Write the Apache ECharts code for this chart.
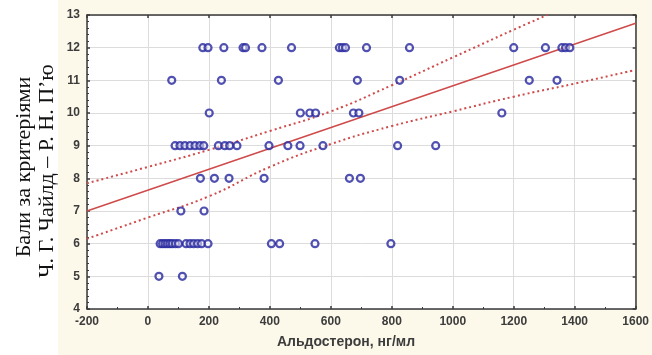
<!DOCTYPE html>
<html>
<head>
<meta charset="utf-8">
<script src="https://cdn.jsdelivr.net/npm/echarts@6/dist/echarts.min.js"></script>
<style>
  html, body { margin: 0; padding: 0; background: #ffffff; }
  #chart { width: 652px; height: 355px; }
</style>
</head>
<body>
<div id="chart"></div>
<script>
// Aldosterone level (ng/ml) of each patient, grouped by Child–Pugh score
const score5  = [36, 113];
const score6  = [40, 48, 56, 64, 72, 80, 90, 100, 125, 138, 150, 163, 176, 197, 405, 432, 548, 797];
const score7  = [108, 184];
const score8  = [172, 218, 266, 381, 661, 697];
const score9  = [89, 105, 121, 138, 154, 170, 183, 231, 252, 268, 292, 397, 459, 499, 574, 819, 944];
const score10 = [201, 500, 531, 550, 674, 692, 1161];
const score11 = [78, 241, 428, 687, 826, 1251, 1342];
const score12 = [180, 197, 249, 312, 320, 374, 471, 628, 638, 648, 717, 858, 1200, 1304, 1358, 1370, 1384];

const scoreGroups = [
  [5, score5], [6, score6], [7, score7], [8, score8],
  [9, score9], [10, score10], [11, score11], [12, score12]
];

// Fitted regression line and its 95% confidence band
const fitLine   = [[-200, 7.0], [1600, 12.75]];
const bandUpper = [[-200, 7.85], [0, 8.35], [200, 8.87], [400, 9.45], [600, 10.05],
                   [800, 10.85], [1000, 11.7], [1200, 12.55], [1310, 13.0]];
const bandLower = [[-200, 6.15], [0, 6.8], [200, 7.45], [400, 8.35], [600, 9.05],
                   [800, 9.6], [1000, 10.05], [1200, 10.5], [1400, 10.9], [1600, 11.32]];

// Axis settings
const xMin = -200, xMax = 1600, xStep = 200;
const yMin = 4, yMax = 13, yStep = 1;

const points = [];
scoreGroups.forEach(([score, xs]) => xs.forEach(x => points.push([x, score])));

const frameColor = '#3a3a3a';
const sansFont = 'Liberation Sans, Arial, sans-serif';
const labelStyle = { color: '#3c3c3c', fontSize: 12, fontWeight: 'bold', fontFamily: sansFont };
const lineRed = '#cf4a4a';
const serifFont = '22px "Liberation Serif", "Times New Roman", serif';

const chart = echarts.init(document.getElementById('chart'), null, { renderer: 'canvas' });

chart.setOption({
  animation: false,
  backgroundColor: '#ffffff',
  graphic: [
    { type: 'rect', z: -10, shape: { x: 58, y: 0, width: 594, height: 355 }, style: { fill: '#fcf8ea' }, silent: true },
    { type: 'text', x: 24, y: 167, rotation: Math.PI / 2,
      style: { text: 'Бали за критеріями', fill: '#111', font: serifFont,
               textAlign: 'center', textVerticalAlign: 'middle' } },
    { type: 'text', x: 47, y: 171, rotation: Math.PI / 2,
      style: { text: 'Ч. Г. Чайлд – Р. Н. П’ю', fill: '#111', font: serifFont,
               textAlign: 'center', textVerticalAlign: 'middle' } },
    { type: 'text', x: 346, y: 342,
      style: { text: 'Альдостерон, нг/мл', fill: '#3c3c3c', font: 'bold 14px ' + sansFont,
               textAlign: 'center', textVerticalAlign: 'middle' } }
  ],
  grid: { left: 87, right: 15, top: 15, bottom: 46, show: true, backgroundColor: '#ffffff', borderWidth: 0 },
  xAxis: [
    {
      type: 'value', min: xMin, max: xMax, interval: xStep, position: 'bottom',
      axisLine: { show: true, onZero: false, lineStyle: { color: frameColor, width: 1.5 } },
      axisTick: { show: true, inside: true, length: 3, lineStyle: { color: frameColor, width: 1.5 } },
      minorTick: { show: true, splitNumber: 2, length: 2, lineStyle: { color: frameColor } },
      axisLabel: Object.assign({ margin: 7, formatter: v => String(v) }, labelStyle),
      splitLine: { show: true, lineStyle: { color: '#dcdcdc', width: 1 } }
    },
    {
      type: 'value', min: xMin, max: xMax, interval: xStep, position: 'top',
      axisLine: { show: true, onZero: false, lineStyle: { color: frameColor, width: 1.5 } },
      axisTick: { show: true, inside: true, length: 3, lineStyle: { color: frameColor, width: 1.5 } },
      axisLabel: { show: false }, splitLine: { show: false }
    }
  ],
  yAxis: [
    {
      type: 'value', min: yMin, max: yMax, interval: yStep, position: 'left',
      axisLine: { show: true, onZero: false, lineStyle: { color: frameColor, width: 1.5 } },
      axisTick: { show: true, inside: true, length: 3, lineStyle: { color: frameColor, width: 1.5 } },
      minorTick: { show: true, splitNumber: 5, length: 2, lineStyle: { color: frameColor } },
      axisLabel: Object.assign({ margin: 7, formatter: v => String(v) }, labelStyle),
      splitLine: { show: true, lineStyle: { color: '#dcdcdc', width: 1 } }
    },
    {
      type: 'value', min: yMin, max: yMax, interval: yStep, position: 'right',
      axisLine: { show: true, onZero: false, lineStyle: { color: frameColor, width: 1.5 } },
      axisTick: { show: true, inside: true, length: 3, lineStyle: { color: frameColor, width: 1.5 } },
      axisLabel: { show: false }, splitLine: { show: false }
    }
  ],
  series: [
    {
      type: 'line', data: bandUpper, smooth: true, symbol: 'none', clip: true, z: 3,
      lineStyle: { color: lineRed, width: 2, type: [2, 3] }
    },
    {
      type: 'line', data: bandLower, smooth: true, symbol: 'none', clip: true, z: 3,
      lineStyle: { color: lineRed, width: 2, type: [2, 3] }
    },
    {
      type: 'line', data: fitLine, symbol: 'none', clip: true, z: 3,
      lineStyle: { color: lineRed, width: 1.5 }
    },
    {
      type: 'scatter', data: points, symbol: 'circle', symbolSize: 7, z: 4,
      itemStyle: { color: 'rgba(255,255,255,0.6)', borderColor: '#25259e', borderWidth: 2.2 }
    }
  ]
});
</script>
</body>
</html>
